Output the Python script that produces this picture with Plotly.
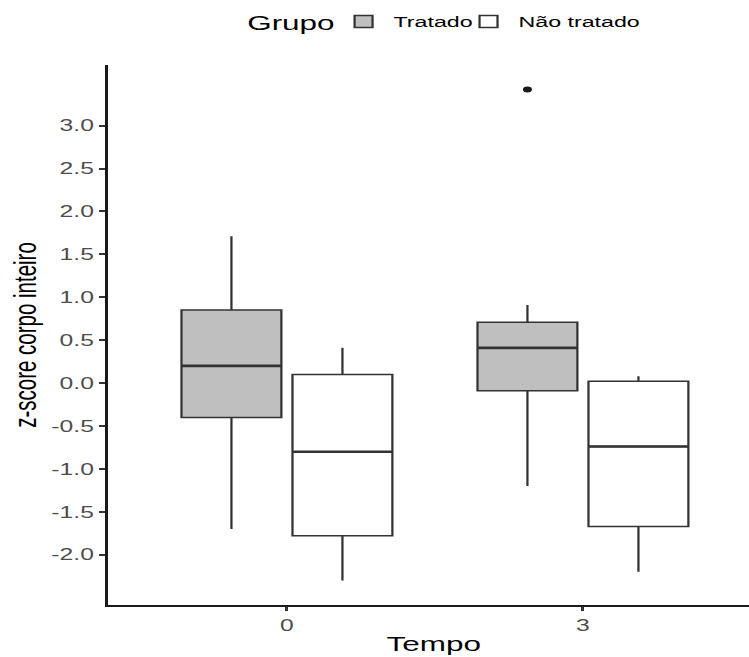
import plotly.graph_objects as go

# Time points (categories) and group names
tempos = ["0", "3"]
grupos = ["Tratado", "Não tratado"]

# Box statistics per group, one value per time point
tratado_lower = [-1.70, -1.20]
tratado_q1 = [-0.40, -0.09]
tratado_median = [0.20, 0.41]
tratado_q3 = [0.85, 0.71]
tratado_upper = [1.71, 0.91]

nao_lower = [-2.30, -2.20]
nao_q1 = [-1.78, -1.67]
nao_median = [-0.80, -0.74]
nao_q3 = [0.10, 0.02]
nao_upper = [0.41, 0.08]

# Outlying observation (Tratado, tempo 3)
outlier_tempo = ["3"]
outlier_valor = [3.42]

y_ticks = [3.0, 2.5, 2.0, 1.5, 1.0, 0.5, 0.0, -0.5, -1.0, -1.5, -2.0]
y_tick_text = ["3.0", "2.5", "2.0", "1.5", "1.0", "0.5", "0.0", "-0.5", "-1.0", "-1.5", "-2.0"]

fills = ["#bfbfbf", "#ffffff"]
line_col = "#333333"
dodge = 0.1875
box_w = 0.3375

# the figure is laid out narrow and widened horizontally on the page
STRETCH = 1.498
FIG_W = 500

cat_index = {t: i for i, t in enumerate(tempos)}
x_base = [cat_index[t] for t in tempos]

stats = [
    (tratado_lower, tratado_q1, tratado_median, tratado_q3, tratado_upper),
    (nao_lower, nao_q1, nao_median, nao_q3, nao_upper),
]
offsets = [-dodge, dodge]
legend_ids = ["legend", "legend2"]

fig = go.Figure()
for g, (lo, q1, med, q3, up), off, fc, lg in zip(grupos, stats, offsets, fills, legend_ids):
    xs = [b + off for b in x_base]
    fig.add_trace(go.Box(
        x=xs, q1=q1, median=med, q3=q3, lowerfence=lo, upperfence=up,
        width=box_w, name=g, fillcolor=fc, legend=lg,
        line=dict(color=line_col, width=1.5),
        whiskerwidth=0, boxpoints=False, hoverinfo="skip",
    ))

# heavier median bars drawn over the boxes
for (lo, q1, med, q3, up), off in zip(stats, offsets):
    mx, my = [], []
    for b, m in zip(x_base, med):
        c = b + off
        mx += [c - box_w / 2, c + box_w / 2, None]
        my += [m, m, None]
    fig.add_trace(go.Scatter(x=mx, y=my, mode="lines", showlegend=False,
                             line=dict(color=line_col, width=2.6), hoverinfo="skip"))

fig.add_trace(go.Scatter(
    x=[cat_index[t] - dodge for t in outlier_tempo], y=outlier_valor,
    mode="markers", marker=dict(color="#1a1a1a", size=6),
    showlegend=False, hoverinfo="skip",
))

font_main = "Liberation Sans, Arial, Helvetica, sans-serif"

# legend heading and x-axis title as free text, centred on the panel
fig.add_annotation(text="Grupo", xref="paper", yref="paper", x=0.2124, y=1.0796,
                   xanchor="left", yanchor="middle", showarrow=False,
                   font=dict(size=21, color="#000000"))
fig.add_annotation(text="Tempo", xref="paper", yref="paper", x=0.5087, y=-0.0704,
                   xanchor="center", yanchor="middle", showarrow=False,
                   font=dict(size=21, color="#000000"))

legend_style = dict(
    orientation="h", xanchor="left", y=1.08, yanchor="middle",
    font=dict(size=15.5, color="#000000"), itemwidth=30,
    bgcolor="rgba(0,0,0,0)",
)

fig.update_layout(
    width=FIG_W, height=657,
    margin=dict(l=72, r=0, t=65, b=52),
    plot_bgcolor="white", paper_bgcolor="white",
    font=dict(family=font_main, color="#000000"),
    boxmode="overlay",
    showlegend=True,
    legend=dict(x=0.3521, **legend_style),
    legend2=dict(x=0.547, **legend_style),
    xaxis=dict(
        range=[-0.605, 1.561], showgrid=False, zeroline=False,
        tickmode="array", tickvals=x_base, ticktext=tempos,
        ticks="outside", ticklen=4, tickwidth=1.5, tickcolor="#333333",
        tickfont=dict(size=16.5, color="#4d4d4d"),
        showline=True, linecolor="#1a1a1a", linewidth=2,
    ),
    yaxis=dict(
        range=[-2.586, 3.706], showgrid=False, zeroline=False,
        tickmode="array", tickvals=y_ticks, ticktext=y_tick_text,
        ticks="outside", ticklen=4, tickwidth=1.5, tickcolor="#333333",
        tickfont=dict(size=16.5, color="#4d4d4d"),
        showline=True, linecolor="#1a1a1a", linewidth=2,
        title=dict(text="z-score corpo inteiro",
                   font=dict(size=20.5, color="#000000"), standoff=4),
    ),
)

widen = (
    "var d = document.getElementById('{plot_id}');"
    "d.style.transformOrigin = '0 0';"
    "d.style.transform = 'scaleX(%.3f)';" % STRETCH
)

fig.write_html("out.html", post_script=widen)
